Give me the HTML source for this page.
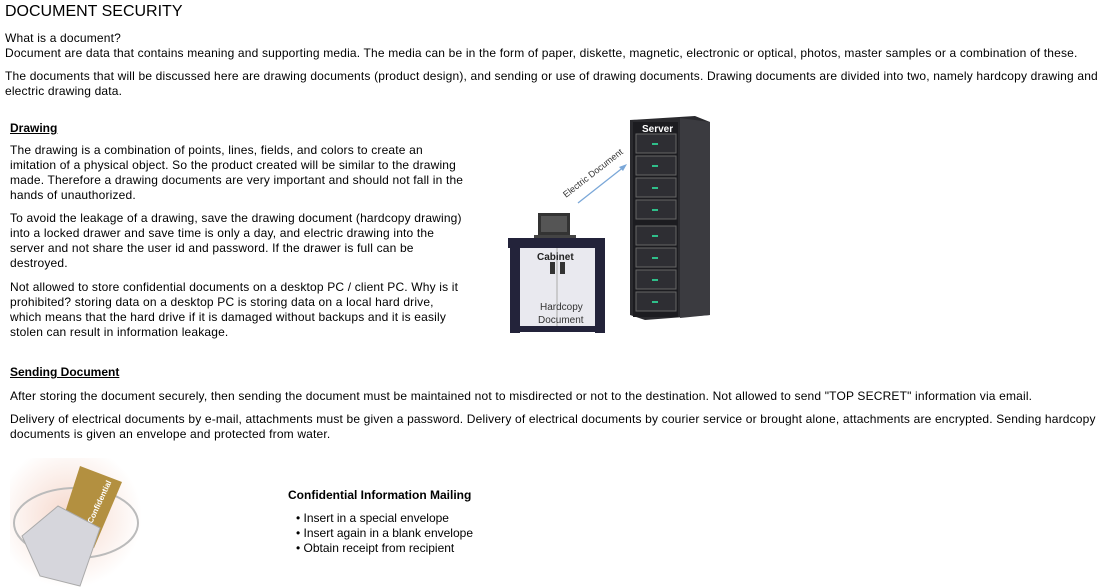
<!DOCTYPE html>
<html><head><meta charset="utf-8"><style>
body{margin:0;width:1106px;height:588px;background:#fff;position:relative;overflow:hidden;font-family:"Liberation Sans",Arial,sans-serif;font-size:12px;color:#000}
.t{position:absolute;white-space:nowrap;line-height:15px;letter-spacing:0.17px}
h1{position:absolute;left:5px;top:2px;margin:0;font-size:16px;font-weight:normal;line-height:20px}
.h{font-weight:bold;text-decoration:underline;letter-spacing:0}
</style></head><body>
<h1>DOCUMENT SECURITY</h1>
<div class="t" style="left:5px;top:31px">What is a document?</div>
<div class="t" style="left:5px;top:46px">Document are data that contains meaning and supporting media. The media can be in the form of paper, diskette, magnetic, electronic or optical, photos, master samples or a combination of these.</div>
<div class="t" style="left:5px;top:69px">The documents that will be discussed here are drawing documents (product design), and sending or use of drawing documents. Drawing documents are divided into two, namely hardcopy drawing and</div>
<div class="t" style="left:5px;top:84px">electric drawing data.</div>

<div class="t h" style="left:10px;top:121px">Drawing</div>
<div class="t" style="left:10px;top:143px">The drawing is a combination of points, lines, fields, and colors to create an<br>imitation of a physical object. So the product created will be similar to the drawing<br>made. Therefore a drawing documents are very important and should not fall in the<br>hands of unauthorized.</div>
<div class="t" style="left:10px;top:211px">To avoid the leakage of a drawing, save the drawing document (hardcopy drawing)<br>into a locked drawer and save time is only a day, and electric drawing into the<br>server and not share the user id and password. If the drawer is full can be<br>destroyed.</div>
<div class="t" style="left:10px;top:280px">Not allowed to store confidential documents on a desktop PC / client PC. Why is it<br>prohibited? storing data on a desktop PC is storing data on a local hard drive,<br>which means that the hard drive if it is damaged without backups and it is easily<br>stolen can result in information leakage.</div>

<svg style="position:absolute;left:500px;top:110px" width="220" height="230">
<polygon points="130,10 195,6 210,12 210,205 145,210 130,205" fill="#2a2a2e"/>
<polygon points="180,8 210,12 210,205 180,208" fill="#3b3b40"/>
<rect x="133" y="12" width="45" height="195" fill="#1c1c20"/>
<g fill="#2e2e33" stroke="#666" stroke-width="1">
<rect x="136" y="24" width="40" height="19"/><rect x="136" y="46" width="40" height="19"/><rect x="136" y="68" width="40" height="19"/><rect x="136" y="90" width="40" height="19"/>
<rect x="136" y="116" width="40" height="19"/><rect x="136" y="138" width="40" height="19"/><rect x="136" y="160" width="40" height="19"/><rect x="136" y="182" width="40" height="19"/>
</g>
<g fill="#2fbf8a"><rect x="152" y="33" width="6" height="2"/><rect x="152" y="55" width="6" height="2"/><rect x="152" y="77" width="6" height="2"/><rect x="152" y="99" width="6" height="2"/><rect x="152" y="125" width="6" height="2"/><rect x="152" y="147" width="6" height="2"/><rect x="152" y="169" width="6" height="2"/><rect x="152" y="191" width="6" height="2"/></g>
<text x="142" y="22" fill="#fff" font-size="10" font-weight="bold" font-family="Liberation Sans,sans-serif">Server</text>
<line x1="78" y1="93" x2="125" y2="56" stroke="#7aa7d8" stroke-width="1.3"/>
<polygon points="127,54 119,57 123,61" fill="#7aa7d8"/>
<text x="0" y="0" font-size="9" fill="#333" transform="translate(66,88) rotate(-38)" font-family="Liberation Sans,sans-serif">Electric Document</text>
<rect x="38" y="103" width="32" height="22" fill="#333"/><rect x="41" y="106" width="26" height="16" fill="#555"/>
<rect x="34" y="125" width="42" height="3" fill="#444"/>
<rect x="8" y="128" width="97" height="10" fill="#23233a"/>
<rect x="10" y="138" width="10" height="85" fill="#23233a"/>
<rect x="95" y="138" width="10" height="85" fill="#23233a"/>
<rect x="20" y="138" width="75" height="82" fill="#e9e9ef"/>
<line x1="57" y1="138" x2="57" y2="220" stroke="#aaa"/>
<rect x="10" y="216" width="95" height="6" fill="#23233a"/>
<rect x="50" y="152" width="5" height="12" fill="#333"/><rect x="60" y="152" width="5" height="12" fill="#333"/>
<text x="37" y="150" font-size="10" font-weight="bold" fill="#222" font-family="Liberation Sans,sans-serif">Cabinet</text>
<text x="40" y="200" font-size="10" fill="#333" font-family="Liberation Sans,sans-serif">Hardcopy</text>
<text x="38" y="213" font-size="10" fill="#333" font-family="Liberation Sans,sans-serif">Document</text>
</svg>

<div class="t h" style="left:10px;top:365px">Sending Document</div>
<div class="t" style="left:10px;top:389px">After storing the document securely, then sending the document must be maintained not to misdirected or not to the destination. Not allowed to send "TOP SECRET" information via email.</div>
<div class="t" style="left:10px;top:412px">Delivery of electrical documents by e-mail, attachments must be given a password. Delivery of electrical documents by courier service or brought alone, attachments are encrypted. Sending hardcopy<br>documents is given an envelope and protected from water.</div>

<svg style="position:absolute;left:10px;top:458px" width="132" height="130">
<defs><radialGradient id="g" cx="0.45" cy="0.45" r="0.55"><stop offset="0" stop-color="#f6d8cc"/><stop offset="1" stop-color="#fff"/></radialGradient></defs>
<rect width="132" height="130" fill="url(#g)"/>
<ellipse cx="66" cy="65" rx="62" ry="35" fill="none" stroke="#bbb" stroke-width="2"/>
<polygon points="70,8 112,24 84,90 50,70" fill="#b39040"/>
<text x="0" y="0" font-size="8" font-weight="bold" fill="#fff" transform="translate(82,66) rotate(-65)">Confidential</text>
<polygon points="48,48 90,70 70,128 30,118 12,78" fill="#d6d6dc" stroke="#aaa"/>
</svg>

<div class="t" style="left:288px;top:488px;font-weight:bold;letter-spacing:0">Confidential Information Mailing</div>
<div class="t" style="left:296px;top:511px;letter-spacing:0">• Insert in a special envelope<br>• Insert again in a blank envelope<br>• Obtain receipt from recipient</div>
</body></html>
